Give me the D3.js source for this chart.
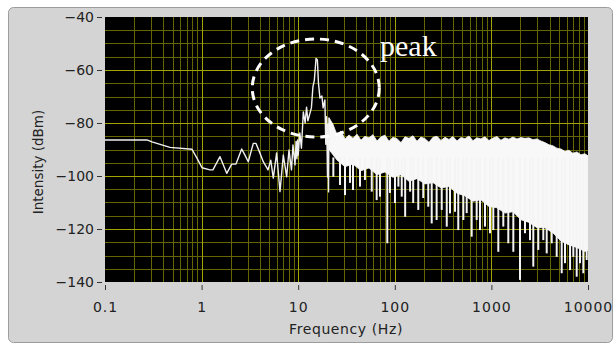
<!DOCTYPE html>
<html>
<head>
<meta charset="utf-8">
<script src="https://cdn.jsdelivr.net/npm/d3@7"></script>
<style>
  html, body { margin: 0; padding: 0; background: #ffffff; }
  svg { display: block; }
</style>
</head>
<body>
<svg id="chart" width="616" height="345"></svg>
<script>
// Axis ticks
const xTicks = [0.1, 1, 10, 100, 1000, 10000];
const yTicks = [-40, -60, -80, -100, -120, -140];

// Low frequency trace + peak, [Hz, dBm]
const lowTrace = [
  [0.1, -86.4], [0.272, -86.4], [0.306, -87.1], [0.471, -89.2], [0.795, -89.9],
  [0.918, -94.0], [1.01, -96.9], [1.22, -97.7], [1.31, -97.7], [1.55, -92.7],
  [1.82, -99.0], [2.05, -95.5], [2.27, -95.5], [2.60, -89.8], [2.81, -92.1],
  [3.04, -94.6], [3.43, -87.7], [3.66, -87.7], [3.96, -90.8], [4.35, -94.6],
  [4.87, -97.7], [5.2, -94.0], [5.52, -100.8], [5.98, -91.3], [6.48, -105.9],
  [7.01, -92.1], [7.60, -100.3], [8.03, -90.2], [8.52, -97.7], [8.83, -88.3],
  [9.27, -95.8], [9.5, -87.0], [9.7, -93.5], [9.85, -86.4], [10.0, -92.1],
  [10.4, -83.8], [10.8, -89.5], [11.3, -75.8], [11.8, -80.0], [12.2, -74.0],
  [12.6, -79.2], [13.7, -74.3], [14.2, -66.4], [14.7, -63.8], [15.3, -55.6],
  [15.8, -56.2], [16.2, -64.9], [16.8, -70.6], [17.6, -69.8], [18.1, -74.3],
  [18.9, -71.3], [19.3, -88.0], [19.7, -77.6], [20.1, -100.4], [20.4, -80.5],
  [20.6, -106.0], [20.84, -78.0]
];

// Noise band upper edge, [Hz, dBm]
const bandTop = [
  [20.84, -78.0], [22.92, -80.5], [25.22, -84.5], [27.74, -83.0], [30.51, -86.0],
  [33.56, -84.5], [36.92, -85.8], [40.61, -84.2], [44.67, -86.5], [49.14, -85.0],
  [54.05, -85.6], [59.46, -84.4], [65.40, -86.8], [71.94, -85.2], [79.14, -84.6],
  [87.05, -86.9], [95.76, -85.4], [105.3, -85.9], [115.9, -87.4], [127.5, -85.2],
  [140.2, -85.8], [154.2, -84.8], [169.6, -86.9], [186.6, -85.3], [205.3, -85.9],
  [225.8, -87.3], [248.4, -85.4], [273.2, -85.0], [300.5, -86.6], [330.6, -85.4],
  [363.6, -86.2], [400.0, -85.1], [440.0, -86.8], [484.0, -85.5], [532.4, -85.9],
  [585.6, -84.9], [644.2, -86.7], [708.6, -85.6], [779.5, -86.0], [857.4, -85.2],
  [943.2, -86.6], [1037, -85.7], [1141, -85.1], [1255, -86.5], [1381, -85.6],
  [1519, -86.1], [1671, -85.3], [1838, -86.0], [2022, -85.5], [2224, -85.8],
  [2446, -85.6], [2691, -86.3], [2960, -86.0], [3256, -86.8], [3582, -87.4],
  [3940, -88.2], [4334, -88.6], [4767, -89.5], [5244, -89.8], [5768, -90.7],
  [6345, -90.3], [6980, -91.4], [7678, -90.9], [8445, -92.0], [9290, -91.6],
  [10000, -92.4]
];

// Noise band solid lower edge, [Hz, dBm]
const bandBottom = [
  [20.84, -90.0], [25.22, -94.0], [30.51, -96.5], [36.92, -95.5], [44.67, -98.0],
  [54.05, -97.0], [65.40, -99.5], [79.14, -98.5], [95.76, -100.5], [115.9, -99.5],
  [140.2, -102.0], [169.6, -101.0], [205.3, -103.0], [248.4, -102.5], [300.5, -104.5],
  [363.6, -104.0], [440.0, -106.5], [532.4, -107.5], [644.2, -109.5], [779.5, -109.0],
  [943.2, -111.5], [1141, -112.0], [1381, -114.0], [1671, -113.5], [2022, -116.5],
  [2446, -117.5], [2960, -119.5], [3582, -119.5], [4334, -121.5], [5244, -124.5],
  [6345, -126.0], [7678, -127.0], [9290, -128.5], [10000, -128.0]
];

// Downward spikes below the band, [Hz, tip dBm]
const spikes = [
  [23.1, -100.3], [27.1, -103.4], [30.5, -107.2], [34.4, -102.6], [36.9, -105.3],
  [43.6, -104.0], [49.1, -101.5], [57.7, -105.9], [64.9, -109.1], [70.3, -107.8],
  [83.6, -125.4], [89.2, -106.4], [100.5, -110.2], [109, -104.0], [118, -107.8],
  [128, -115.4], [144, -105.9], [155, -110.2], [175, -112.8], [197, -108.3],
  [222, -111.6], [241, -117.9], [271, -116.6], [306, -112.8], [345, -119.1],
  [373, -114.1], [420, -113.5], [454, -120.4], [512, -116.6], [555, -114.0],
  [625, -122.9], [704, -116.6], [762, -120.4], [859, -119.1], [967, -121.6],
  [1046, -120.4], [1179, -128.6], [1328, -119.1], [1496, -125.4], [1686, -128.6],
  [1977, -139.2], [2228, -121.6], [2509, -124.2], [2714, -134.2], [3058, -127.9],
  [3446, -124.2], [3737, -129.2], [4210, -125.4], [4742, -130.5], [5343, -136.7],
  [5780, -132.9], [6520, -135.5], [7047, -130.5], [7638, -138.0], [8260, -132.9],
  [8940, -136.7], [9694, -131.7]
];

// Annotation
const peakLabel = "peak";

const svg = d3.select("#chart");
const plot = { left: 105, right: 588, top: 17, bottom: 282 };

const x = d3.scaleLog().domain([0.1, 10000]).range([plot.left, plot.right]);
const y = d3.scaleLinear().domain([-40, -140]).range([plot.top, plot.bottom]);

// outer panel
svg.append("rect")
  .attr("x", 8.5).attr("y", 7.5)
  .attr("width", 604).attr("height", 335)
  .attr("rx", 5)
  .attr("fill", "#d4d4d4")
  .attr("stroke", "#9c9c9c");

// plot background
svg.append("rect")
  .attr("x", plot.left).attr("y", plot.top)
  .attr("width", plot.right - plot.left).attr("height", plot.bottom - plot.top)
  .attr("fill", "#000");

svg.append("defs").append("clipPath").attr("id", "clip")
  .append("rect")
  .attr("x", plot.left).attr("y", plot.top)
  .attr("width", plot.right - plot.left).attr("height", plot.bottom - plot.top);

const grid = svg.append("g").attr("shape-rendering", "crispEdges");

// minor grid: 2..9 per decade, every 5 dB
const minorX = [];
xTicks.slice(0, -1).forEach(d => { for (let k = 2; k <= 9; k++) minorX.push(d * k); });
const minorY = d3.range(-45, -140, -5).filter(v => v % 20 !== 0);

grid.selectAll("line.mx").data(minorX).join("line")
  .attr("x1", d => Math.round(x(d)) + 0.5).attr("x2", d => Math.round(x(d)) + 0.5)
  .attr("y1", plot.top).attr("y2", plot.bottom)
  .attr("stroke", "#666600");
grid.selectAll("line.my").data(minorY).join("line")
  .attr("y1", d => Math.round(y(d)) + 0.5).attr("y2", d => Math.round(y(d)) + 0.5)
  .attr("x1", plot.left).attr("x2", plot.right)
  .attr("stroke", "#666600");

// major grid
grid.selectAll("line.Mx").data(xTicks.slice(1, -1)).join("line")
  .attr("x1", d => Math.round(x(d)) + 0.5).attr("x2", d => Math.round(x(d)) + 0.5)
  .attr("y1", plot.top).attr("y2", plot.bottom)
  .attr("stroke", "#a4a400");
grid.selectAll("line.My").data(yTicks.slice(1, -1)).join("line")
  .attr("y1", d => Math.round(y(d)) + 0.5).attr("y2", d => Math.round(y(d)) + 0.5)
  .attr("x1", plot.left).attr("x2", plot.right)
  .attr("stroke", "#a4a400");

// data
const data = svg.append("g").attr("clip-path", "url(#clip)");
const line = d3.line().x(d => x(d[0])).y(d => y(d[1]));

data.append("path")
  .attr("d", line(bandTop.concat(bandBottom.slice().reverse())) + "Z")
  .attr("fill", "#f8f8f8")
  .attr("stroke", "#f8f8f8")
  .attr("stroke-width", 0.8);

data.selectAll("line.spike").data(spikes).join("line")
  .attr("x1", d => x(d[0])).attr("x2", d => x(d[0]))
  .attr("y1", y(-93)).attr("y2", d => y(d[1]))
  .attr("stroke", "#f4f4f4")
  .attr("stroke-width", 2);

data.append("path")
  .attr("d", line(lowTrace))
  .attr("fill", "none")
  .attr("stroke", "#f0f0f0")
  .attr("stroke-width", 1.4)
  .attr("stroke-linejoin", "round");

// annotation
svg.append("ellipse")
  .attr("cx", x(15.2)).attr("cy", y(-66.8))
  .attr("rx", 63.5).attr("ry", 49)
  .attr("fill", "none")
  .attr("stroke", "#fff")
  .attr("stroke-width", 3)
  .attr("stroke-dasharray", "9,6");

svg.append("text")
  .attr("x", 380).attr("y", 56)
  .attr("fill", "#fff")
  .attr("font-family", "'Liberation Serif', 'DejaVu Serif', serif")
  .attr("font-size", 30)
  .text(peakLabel);

// axes
const axisFont = "'DejaVu Sans', 'Liberation Sans', sans-serif";

const yAxis = d3.axisLeft(y).tickValues(yTicks).tickSize(5).tickPadding(3)
  .tickFormat(d => "\u2212" + Math.abs(d));
const yG = svg.append("g").attr("transform", `translate(${plot.left - 3},0)`).call(yAxis);

const xAxis = d3.axisBottom(x).tickValues(xTicks).tickSize(5).tickPadding(12)
  .tickFormat(d => d < 1 ? "0.1" : String(d));
const xG = svg.append("g").attr("transform", `translate(0,${plot.bottom + 3})`).call(xAxis);

[yG, xG].forEach(g => {
  g.select(".domain").remove();
  g.selectAll(".tick line").attr("stroke", "#333");
  g.selectAll("text")
    .attr("fill", "#222")
    .attr("font-family", axisFont)
    .attr("font-size", 14);
});
xG.selectAll("text").attr("letter-spacing", 1);

svg.append("text")
  .attr("transform", `translate(43,162) rotate(-90)`)
  .attr("text-anchor", "middle")
  .attr("fill", "#222")
  .attr("font-family", axisFont)
  .attr("font-size", 13.5)
  .text("Intensity (dBm)");

svg.append("text")
  .attr("x", 346).attr("y", 334)
  .attr("text-anchor", "middle")
  .attr("fill", "#222")
  .attr("font-family", axisFont)
  .attr("font-size", 14)
  .attr("letter-spacing", 0.6)
  .text("Frequency (Hz)");
</script>
</body>
</html>
